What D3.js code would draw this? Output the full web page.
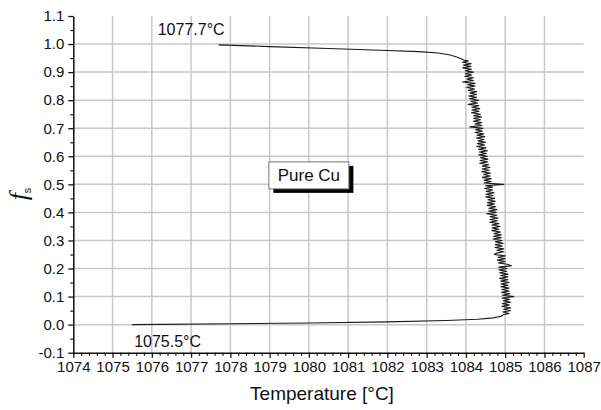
<!DOCTYPE html>
<html>
<head>
<meta charset="utf-8">
<script src="https://cdn.jsdelivr.net/npm/d3@7"></script>
<style>
  body { margin: 0; background: #fff; }
  text { font-family: "Liberation Sans", Arial, sans-serif; fill: #111; }
</style>
</head>
<body>
<div id="chart"></div>
<script>
// chart data
var xTicks = [1074, 1075, 1076, 1077, 1078, 1079, 1080, 1081, 1082, 1083, 1084, 1085, 1086, 1087];
var yTicks = [-0.1, 0.0, 0.1, 0.2, 0.3, 0.4, 0.5, 0.6, 0.7, 0.8, 0.9, 1.0, 1.1];

// top part of the curve (fs near 1)
var topTemp = [1077.7, 1079.0, 1080.5, 1082.0, 1082.8, 1083.3, 1083.6, 1083.8, 1083.95];
var topFs   = [0.997, 0.991, 0.984, 0.977, 0.973, 0.968, 0.961, 0.952, 0.943];

// noisy plateau (temperature jitter)
var bandTemp = [
  1084.06, 1083.91, 1084.14, 1083.94, 1084.13, 1083.92, 1084.14, 1083.98, 1084.19, 1083.98,
  1084.15, 1083.97, 1084.19, 1084.03, 1084.19, 1083.91, 1084.23, 1084.04, 1084.23, 1084.02,
  1084.22, 1084.06, 1084.28, 1084.10, 1084.27, 1084.07, 1084.27, 1084.09, 1084.33, 1084.13,
  1084.30, 1084.06, 1084.33, 1084.15, 1084.35, 1084.15, 1084.33, 1084.14, 1084.37, 1084.20,
  1084.40, 1084.20, 1084.37, 1084.19, 1084.40, 1084.23, 1084.41, 1084.10, 1084.44, 1084.25,
  1084.42, 1084.23, 1084.45, 1084.28, 1084.48, 1084.27, 1084.46, 1084.31, 1084.50, 1084.29,
  1084.48, 1084.28, 1084.51, 1084.32, 1084.55, 1084.34, 1084.52, 1084.33, 1084.54, 1084.37,
  1084.56, 1084.36, 1084.55, 1084.35, 1084.58, 1084.42, 1084.61, 1084.41, 1084.59, 1084.40,
  1084.62, 1084.45, 1084.62, 1084.42, 1084.65, 1084.46, 1084.64, 1084.46, 1084.97, 1084.50,
  1084.68, 1084.48, 1084.68, 1084.52, 1084.72, 1084.51, 1084.69, 1084.50, 1084.73, 1084.56,
  1084.75, 1084.55, 1084.73, 1084.54, 1084.76, 1084.58, 1084.79, 1084.58, 1084.77, 1084.53,
  1084.79, 1084.62, 1084.82, 1084.62, 1084.80, 1084.61, 1084.84, 1084.66, 1084.87, 1084.67,
  1084.84, 1084.66, 1084.88, 1084.71, 1084.90, 1084.70, 1084.90, 1084.69, 1084.92, 1084.75,
  1084.95, 1084.74, 1084.93, 1084.74, 1084.96, 1084.79, 1084.96, 1084.78, 1084.72, 1085.00,
  1084.82, 1085.00, 1084.80, 1085.00, 1084.83, 1085.05, 1085.16, 1084.84, 1085.04, 1084.84,
  1085.04, 1084.86, 1085.07, 1084.89, 1085.07, 1084.86, 1085.07, 1084.89, 1085.10, 1084.89,
  1085.07, 1084.89, 1085.10, 1084.92, 1085.10, 1084.91, 1085.12, 1084.93, 1085.22, 1084.92,
  1085.11, 1084.95, 1085.14, 1084.93, 1085.11, 1084.92, 1085.14, 1084.96, 1085.13, 1084.94,
  1085.10, 1084.95, 1084.90
];
var bandFs = [
  0.940, 0.935, 0.930, 0.925, 0.920, 0.915, 0.910, 0.905, 0.900, 0.895,
  0.890, 0.885, 0.880, 0.875, 0.870, 0.865, 0.860, 0.855, 0.850, 0.845,
  0.840, 0.835, 0.830, 0.825, 0.820, 0.815, 0.810, 0.805, 0.800, 0.795,
  0.790, 0.785, 0.780, 0.775, 0.770, 0.765, 0.760, 0.755, 0.750, 0.745,
  0.740, 0.735, 0.730, 0.725, 0.720, 0.715, 0.710, 0.705, 0.700, 0.695,
  0.690, 0.685, 0.680, 0.675, 0.670, 0.665, 0.660, 0.655, 0.650, 0.645,
  0.640, 0.635, 0.630, 0.625, 0.620, 0.615, 0.610, 0.605, 0.600, 0.595,
  0.590, 0.585, 0.580, 0.575, 0.570, 0.565, 0.560, 0.555, 0.550, 0.545,
  0.540, 0.535, 0.530, 0.525, 0.520, 0.515, 0.510, 0.505, 0.500, 0.495,
  0.490, 0.485, 0.480, 0.475, 0.470, 0.465, 0.460, 0.455, 0.450, 0.445,
  0.440, 0.435, 0.430, 0.425, 0.420, 0.415, 0.410, 0.405, 0.400, 0.395,
  0.390, 0.385, 0.380, 0.375, 0.370, 0.365, 0.360, 0.355, 0.350, 0.345,
  0.340, 0.335, 0.330, 0.325, 0.320, 0.315, 0.310, 0.305, 0.300, 0.295,
  0.290, 0.285, 0.280, 0.275, 0.270, 0.265, 0.260, 0.255, 0.250, 0.245,
  0.240, 0.235, 0.230, 0.225, 0.220, 0.215, 0.210, 0.205, 0.200, 0.195,
  0.190, 0.185, 0.180, 0.175, 0.170, 0.165, 0.160, 0.155, 0.150, 0.145,
  0.140, 0.135, 0.130, 0.125, 0.120, 0.115, 0.110, 0.105, 0.100, 0.095,
  0.090, 0.085, 0.080, 0.075, 0.070, 0.065, 0.060, 0.055, 0.050, 0.045,
  0.040, 0.035, 0.030
];

// bottom part of the curve (fs near 0)
var botTemp = [1084.7, 1084.3, 1083.5, 1082.0, 1080.0, 1078.0, 1075.5];
var botFs   = [0.024, 0.019, 0.015, 0.010, 0.006, 0.003, 0.000];

// annotations
var notes = [
  {text: "1077.7°C", t: 1076.15, fs: 1.032},
  {text: "1075.5°C", t: 1075.55, fs: -0.079}
];
var boxLabel = {text: "Pure Cu", t: 1080.0, fs: 0.532};

// build the point list
var curve = [];
topTemp.forEach(function(t, i) { curve.push([t, topFs[i]]); });
bandTemp.forEach(function(t, i) { curve.push([t, bandFs[i]]); });
botTemp.forEach(function(t, i) { curve.push([t, botFs[i]]); });

var width = 601, height = 410;
var svg = d3.select("#chart").append("svg")
  .attr("width", width)
  .attr("height", height);

var x = d3.scaleLinear().domain([1074, 1087]).range([73.3, 583.7]);
var y = d3.scaleLinear().domain([-0.1, 1.1]).range([352.7, 16]);

// grid
var grid = svg.append("g");
grid.selectAll(".vg")
  .data(xTicks.slice(1, -1))
  .enter().append("line")
  .attr("x1", d => x(d)).attr("x2", d => x(d))
  .attr("y1", y(1.1)).attr("y2", y(-0.1))
  .attr("stroke", "#c8c8c8").attr("stroke-width", 1.5);
grid.selectAll(".hg")
  .data(yTicks.slice(1, -1))
  .enter().append("line")
  .attr("x1", x(1074)).attr("x2", x(1087))
  .attr("y1", d => y(d)).attr("y2", d => y(d))
  .attr("stroke", "#c8c8c8").attr("stroke-width", 1.5);

// minor ticks
var xMinor = [];
xTicks.slice(0, -1).forEach(function(t) { [0.2, 0.4, 0.6, 0.8].forEach(function(f) { xMinor.push(t + f); }); });
var yMinor = [];
yTicks.slice(0, -1).forEach(function(v) { yMinor.push(v + 0.05); });

svg.append("g")
  .attr("transform", "translate(0," + y(-0.1) + ")")
  .call(d3.axisBottom(x).tickValues(xMinor).tickSize(3).tickSizeOuter(0).tickFormat(""))
  .call(g => g.select(".domain").remove())
  .selectAll("line").attr("stroke", "#111").attr("stroke-width", 1.2);

svg.append("g")
  .attr("transform", "translate(" + x(1074) + ",0)")
  .call(d3.axisLeft(y).tickValues(yMinor).tickSize(3).tickSizeOuter(0).tickFormat(""))
  .call(g => g.select(".domain").remove())
  .selectAll("line").attr("stroke", "#111").attr("stroke-width", 1.2);

// major axes
var xAxis = svg.append("g")
  .attr("transform", "translate(0," + y(-0.1) + ")")
  .call(d3.axisBottom(x).tickValues(xTicks).tickSize(5).tickSizeOuter(0).tickPadding(4).tickFormat(d3.format("d")));
xAxis.select(".domain").attr("stroke", "#111").attr("stroke-width", 1.5);
xAxis.selectAll("line").attr("stroke", "#111").attr("stroke-width", 1.3);
xAxis.selectAll("text").style("font-size", "15px").attr("fill", "#111");

var fmtY = d3.format(".1f");
var yAxis = svg.append("g")
  .attr("transform", "translate(" + x(1074) + ",0)")
  .call(d3.axisLeft(y).tickValues(yTicks).tickSize(5).tickSizeOuter(0).tickPadding(4)
    .tickFormat(d => fmtY(d).replace("\u2212", "-")));
yAxis.select(".domain").attr("stroke", "#111").attr("stroke-width", 1.5);
yAxis.selectAll("line").attr("stroke", "#111").attr("stroke-width", 1.3);
yAxis.selectAll("text").style("font-size", "15px").attr("fill", "#111");

// curve
var line = d3.line().x(d => x(d[0])).y(d => y(d[1]));
svg.append("path")
  .datum(curve)
  .attr("d", line)
  .attr("fill", "none")
  .attr("stroke", "#1a1a1a")
  .attr("stroke-width", 1.1)
  .attr("stroke-linejoin", "round");

// temperature notes
svg.selectAll(".note")
  .data(notes)
  .enter().append("text")
  .attr("x", d => x(d.t))
  .attr("y", d => y(d.fs))
  .style("font-size", "16px")
  .text(d => d.text);

// Pure Cu box with shadow
var bx = x(boxLabel.t), by = y(boxLabel.fs);
var bw = 80, bh = 27;
svg.append("rect")
  .attr("x", bx - bw / 2 + 4.5).attr("y", by - bh / 2 + 4)
  .attr("width", bw).attr("height", bh)
  .attr("fill", "#000");
svg.append("rect")
  .attr("x", bx - bw / 2).attr("y", by - bh / 2)
  .attr("width", bw).attr("height", bh)
  .attr("fill", "#fff").attr("stroke", "#777").attr("stroke-width", 1);
svg.append("text")
  .attr("x", bx).attr("y", by + 6)
  .attr("text-anchor", "middle")
  .style("font-size", "17px")
  .text(boxLabel.text);

// axis titles
svg.append("text")
  .attr("x", 322).attr("y", 400)
  .attr("text-anchor", "middle")
  .style("font-size", "19px")
  .text("Temperature [°C]");

var yl = svg.append("text")
  .attr("transform", "translate(27,194) rotate(-90)")
  .attr("text-anchor", "middle");
yl.append("tspan")
  .style("font-family", "'Liberation Serif', 'DejaVu Serif', serif")
  .style("font-style", "italic")
  .style("font-size", "26px")
  .text("f");
yl.append("tspan")
  .attr("dy", 4)
  .style("font-size", "11px")
  .text("s");
</script>
</body>
</html>
